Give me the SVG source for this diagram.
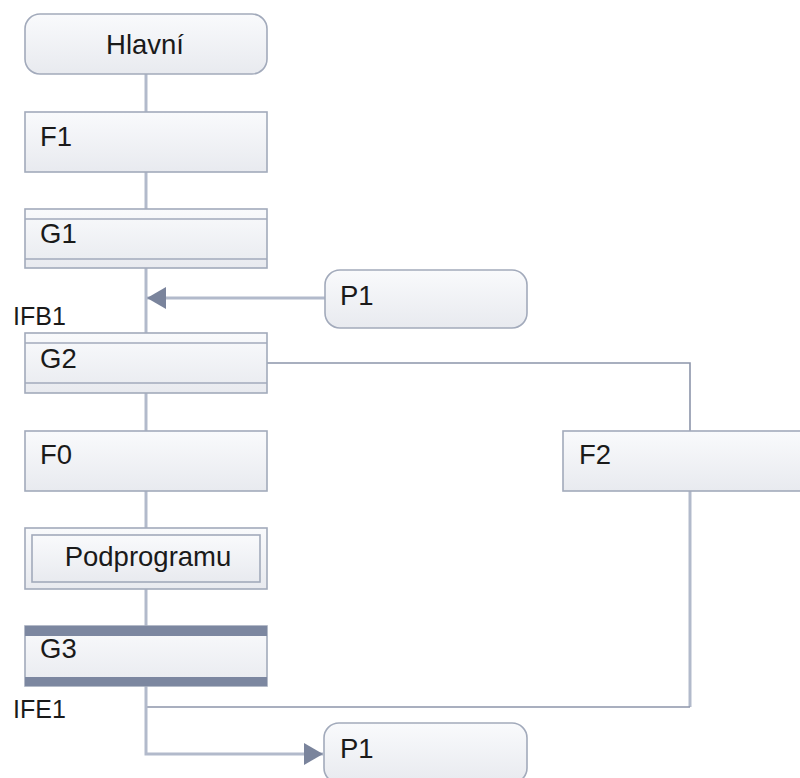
<svg xmlns="http://www.w3.org/2000/svg" width="800" height="778" viewBox="0 0 800 778">
<defs>
<linearGradient id="boxfill" x1="0" y1="0" x2="0" y2="1">
<stop offset="0" stop-color="#f9fafc"/>
<stop offset="1" stop-color="#e8eaef"/>
</linearGradient>
<marker id="arrow" viewBox="0 0 19 22" refX="19" refY="11" markerWidth="19" markerHeight="22" markerUnits="userSpaceOnUse" orient="auto">
<path d="M0,0 L19,11 L0,22 Z" fill="#7a849c"/>
</marker>
<style>
.box{fill:url(#boxfill);stroke:#a2aabb;stroke-width:1.6}
.sep{stroke:#a2aabb;stroke-width:1.6;fill:none}
.band{fill:#7c87a0}
.t{font-family:"Liberation Sans",Arial,sans-serif;font-size:27.5px;fill:#1a1a1a}
.tc{text-anchor:middle}
.lbl{font-family:"Liberation Sans",Arial,sans-serif;font-size:25px;fill:#1a1a1a}
.main{stroke:#b2bacb;stroke-width:3;fill:none}
.thin{stroke:#8c95aa;stroke-width:1.6;fill:none}
.flow{stroke:#b2bacb;stroke-width:3;fill:none}
</style>
</defs>
<rect width="800" height="778" fill="#ffffff"/>
<g id="connectors">
<line class="main" x1="146" y1="74" x2="146" y2="112"/>
<line class="main" x1="146" y1="172" x2="146" y2="209"/>
<line class="main" x1="146" y1="268" x2="146" y2="333"/>
<line class="main" x1="146" y1="393" x2="146" y2="431"/>
<line class="main" x1="146" y1="491" x2="146" y2="528"/>
<line class="main" x1="146" y1="589" x2="146" y2="626"/>
<line class="flow" x1="325" y1="298" x2="147" y2="298" marker-end="url(#arrow)"/>
<polyline class="thin" points="267,363 690,363 690,431"/>
<line class="main" x1="690" y1="491" x2="690" y2="707"/>
<line class="thin" x1="690" y1="707" x2="146" y2="707"/>
<polyline class="main" points="146,686 146,754 323,754" marker-end="url(#arrow)"/>
</g>
<g id="hlavni">
<rect class="box" x="25" y="14" width="242" height="60" rx="15" ry="15"/>
<text class="t tc" x="145" y="54">Hlavní</text>
</g>
<g id="f1">
<rect class="box" x="25" y="112" width="242" height="60"/>
<text class="t" x="40" y="146">F1</text>
</g>
<g id="g1">
<rect class="box" x="25" y="209" width="242" height="59"/>
<line class="sep" x1="25" y1="219" x2="267" y2="219"/>
<line class="sep" x1="25" y1="259" x2="267" y2="259"/>
<text class="t" x="40" y="243">G1</text>
</g>
<g id="p1-top">
<rect class="box" x="325" y="270" width="202" height="58" rx="15" ry="15"/>
<text class="t" x="340" y="305">P1</text>
</g>
<g id="ifb1">
<text class="lbl" x="13" y="325">IFB1</text>
</g>
<g id="g2">
<rect class="box" x="25" y="333" width="242" height="60"/>
<line class="sep" x1="25" y1="343" x2="267" y2="343"/>
<line class="sep" x1="25" y1="383" x2="267" y2="383"/>
<text class="t" x="40" y="368">G2</text>
</g>
<g id="f0">
<rect class="box" x="25" y="431" width="242" height="60"/>
<text class="t" x="40" y="464">F0</text>
</g>
<g id="f2">
<rect class="box" x="563" y="431" width="242" height="60"/>
<text class="t" x="579" y="464">F2</text>
</g>
<g id="podprogramu">
<rect class="box" x="25" y="528" width="242" height="61"/>
<rect class="box" x="32" y="535" width="228" height="47"/>
<text class="t tc" x="148" y="566">Podprogramu</text>
</g>
<g id="g3">
<rect class="box" x="25" y="626" width="242" height="60"/>
<rect class="band" x="25" y="626" width="242" height="10"/>
<rect class="band" x="25" y="677" width="242" height="9"/>
<text class="t" x="40" y="658">G3</text>
</g>
<g id="ife1">
<text class="lbl" x="13" y="718">IFE1</text>
</g>
<g id="p1-bottom">
<rect class="box" x="324" y="723" width="203" height="60" rx="15" ry="15"/>
<text class="t" x="340" y="758">P1</text>
</g>
</svg>
